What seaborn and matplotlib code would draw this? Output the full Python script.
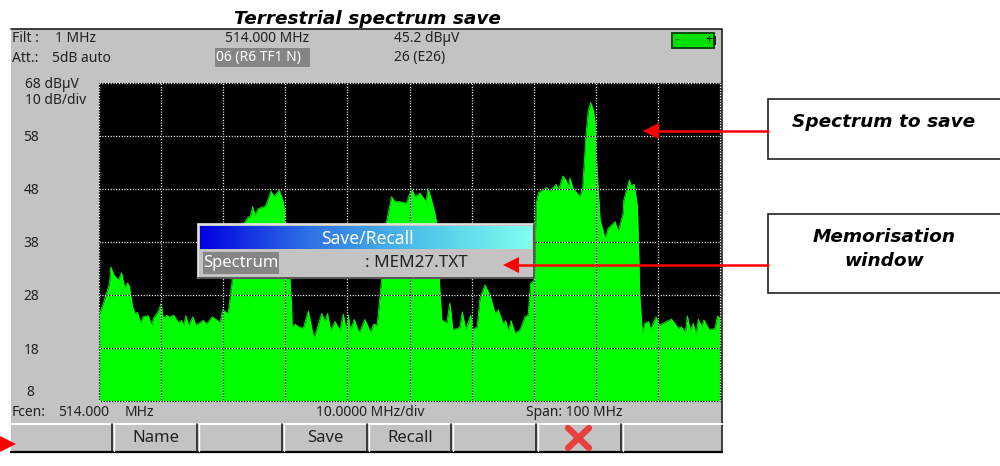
# Terrestrial spectrum save screen, spectrum trace with the instrument panel around it

import numpy as np
import seaborn as sns
import matplotlib.pyplot as plt
from matplotlib.patches import Rectangle, Polygon

# Trace
freq_mhz = [464.0, 464.7, 465.1, 465.7, 465.9, 466.4, 467.1, 467.65, 468.1, 468.6, 468.9, 469.4, 469.8, 470.2, 470.7,
            471.1, 471.9, 472.5, 472.75, 473.55, 474.0, 474.35, 474.9, 475.3, 476.0, 476.8, 477.3, 477.6, 478.0, 478.4,
            479.1, 479.6, 480.8, 481.3, 482.25, 483.5, 483.9, 484.8, 485.4, 485.6, 486.7, 487.5, 488.05, 488.3, 488.75,
            489.1, 489.65, 490.7, 491.0, 491.7, 492.2, 493.0, 493.6, 494.0, 494.05, 494.75, 495.0, 495.1, 495.6, 496.1,
            496.9, 497.7, 498.6, 499.05, 499.85, 500.4, 500.8, 501.3, 502.0, 502.8, 503.35, 503.8, 504.15, 504.5, 505.1,
            505.9, 506.8, 507.75, 508.2, 508.8, 509.5, 510.3, 511.1, 511.65, 512.5, 513.5, 514.35, 514.9, 515.7, 516.65,
            517.0, 517.55, 518.1, 518.4, 518.8, 519.2, 520.0, 520.5, 521.0, 522.1, 522.5, 523.05, 523.85, 524.2, 524.9,
            525.35, 526.15, 526.95, 527.8, 528.3, 529.1, 529.5, 529.9, 530.35, 531.0, 531.8, 532.6, 533.1, 533.5, 534.1,
            534.4, 534.75, 536.1, 536.6, 537.6, 538.0, 538.7, 539.2, 539.6, 539.85, 540.3, 541.45, 541.9, 542.1, 542.4,
            542.8, 543.2, 543.6, 543.9, 544.15, 544.4, 544.7, 545.5, 546.0, 547.1, 547.6, 548.4, 548.5, 549.4, 549.7,
            550.2, 550.7, 550.85, 551.1, 551.5, 551.9, 552.5, 552.8, 553.7, 554.25, 555.4, 556.2, 557.3, 557.8, 558.4,
            558.75, 559.2, 559.7, 560.15, 560.5, 561.05, 561.4, 562.3, 563.2, 563.6, 564.0]
level_dbuv = [24.2, 26.4, 27.9, 30.2, 33.3, 31.8, 30.8, 32.2, 29.4, 30.3, 29.6, 25.8, 24.5, 24.7, 22.7,
              23.9, 24.1, 22.2, 23.6, 24.9, 26.4, 23.6, 24.2, 23.8, 24.2, 22.8, 23.2, 22.2, 24.1, 22.2,
              23.9, 22.3, 23.2, 22.5, 23.9, 22.8, 25.2, 24.5, 30.2, 32.7, 39.0, 41.8, 42.8, 42.5, 44.7,
              43.1, 44.3, 44.7, 45.3, 47.6, 46.55, 47.8, 45.9, 43.4, 41.5, 30.8, 26.4, 22.0, 22.5, 22.0,
              21.7, 25.0, 19.8, 21.4, 24.5, 23.0, 24.5, 21.3, 23.0, 21.4, 24.4, 21.4, 24.2, 21.3, 23.4,
              20.8, 23.4, 20.9, 22.5, 22.3, 30.8, 41.8, 46.55, 45.6, 45.6, 45.3, 48.1, 46.55, 47.2, 45.6,
              48.1, 45.9, 43.4, 41.5, 30.8, 23.3, 22.65, 26.5, 21.4, 21.9, 24.85, 21.5, 24.2, 21.5, 22.0,
              27.4, 29.9, 28.0, 24.5, 25.2, 22.5, 23.15, 21.1, 23.15, 20.8, 21.4, 23.9, 24.2, 30.2, 30.8,
              45.3, 47.3, 48.3, 47.5, 48.9, 47.8, 50.45, 49.7, 48.4, 50.1, 48.2, 46.55, 48.4, 52.2, 57.9,
              62.9, 64.3, 62.9, 60.45, 52.9, 47.8, 42.15, 38.7, 40.6, 41.85, 39.95, 43.4, 45.9, 49.7, 48.6,
              48.9, 44.7, 39.0, 27.7, 20.8, 22.65, 23.0, 21.5, 23.9, 22.3, 23.0, 23.45, 21.7, 22.0, 20.8,
              24.05, 21.4, 22.65, 20.45, 23.45, 22.0, 23.3, 21.4, 21.7, 24.05, 23.6]

grid_freq = [464, 474, 484, 494, 504, 514, 524, 534, 544, 554, 564]
grid_level = [8, 18, 28, 38, 48, 58, 68]
level_labels = ['58', '48', '38', '28', '18']
label_levels = [58, 48, 38, 28, 18]
softkeys = ['', 'Name', '', 'Save', 'Recall', '', '', '']

GREY = '#c3c3c3'
GREEN = '#00ff00'
RED = '#ff0000'
W, H = 1000, 466

sns.set_theme(style='white')
plt.rcParams['font.family'] = ['Noto Sans', 'DejaVu Sans']

fig = plt.figure(figsize=(W / 100, H / 100), dpi=100)


def px_axes(x0, y0, x1, y1, zorder):
    return fig.add_axes([x0 / W, 1 - y1 / H, (x1 - x0) / W, (y1 - y0) / H], zorder=zorder)


# Background layer in pixel coordinates
back = px_axes(0, 0, W, H, 0)
back.set_xlim(0, W)
back.set_ylim(H, 0)
back.axis('off')
back.add_patch(Rectangle((11, 29), 711, 423, fc=GREY, ec='none'))
back.plot([11, 722, 722], [29, 29, 452], color='#202020', lw=1.2)
back.plot([11, 722], [452, 452], color='black', lw=1.6)
back.plot([11, 722], [423.5, 423.5], color='white', lw=1.4)

# Spectrum
ax = px_axes(99, 83, 720, 401, 1)
ax.set_facecolor('black')
sns.lineplot(x=freq_mhz, y=level_dbuv, ax=ax, color=GREEN, lw=0.6, sort=False, errorbar=None)
ax.fill_between(freq_mhz, level_dbuv, 8, color=GREEN, lw=0)
ax.set_xlim(464, 564)
ax.set_ylim(8, 68)
ax.set_xticks(grid_freq)
ax.set_yticks(label_levels)
ax.set_yticklabels(level_labels, fontsize=10, color='#222222')
ax.set_xticklabels([])
ax.tick_params(axis='y', length=0, pad=43)
ax.tick_params(axis='x', length=0)
# grid dots alternate black and white, the black ones only show over the trace
for f in grid_freq:
    ax.axvline(f, color='white', lw=0.9, ls=(0, (1.1, 1.1)), zorder=5, clip_on=False)
    ax.axvline(f, color='#101010', lw=0.9, ls=(1.1, (1.1, 1.1)), zorder=6, clip_on=False)
for l in grid_level:
    ax.axhline(l, color='white', lw=0.9, ls=(0, (1.1, 1.1)), zorder=5, clip_on=False)
    ax.axhline(l, color='#101010', lw=0.9, ls=(1.1, (1.1, 1.1)), zorder=6, clip_on=False)
sns.despine(ax=ax, left=True, bottom=True)

# Front layer: panel text, popup, callouts
fg = px_axes(0, 0, W, H, 2)
fg.set_xlim(0, W)
fg.set_ylim(H, 0)
fg.axis('off')
fg.patch.set_alpha(0)

tc = '#222222'
fg.text(367, 19, 'Terrestrial spectrum save', fontsize=13.3, family='DejaVu Sans', weight='bold', style='italic',
        ha='center', va='center', color='black')
for x, y, s in [(12, 39, 'Filt :'), (55, 39, '1 MHz'), (12, 58, 'Att.:'), (52, 58, '5dB auto'),
                (225, 39, '514.000 MHz'), (394, 39, '45.2 dBµV'), (394, 58, '26 (E26)'),
                (25, 84, '68 dBµV'), (25, 101, '10 dB/div'), (26, 393, '8')]:
    fg.text(x, y, s, fontsize=10, color=tc, ha='left', va='center')
fg.add_patch(Rectangle((215, 48), 95, 19, fc='#858585', ec='none'))
fg.text(216, 58, '06 (R6 TF1 N)', fontsize=10, color='white', ha='left', va='center')

for x, y, s in [(12, 412, 'Fcen:'), (58, 412, '514.000'), (125, 412, 'MHz'), (316, 412, '10.0000 MHz/div'),
                (526, 412, 'Span: 100 MHz')]:
    fg.text(x, y, s, fontsize=10, color=tc, ha='left', va='center')

# Softkeys
key_edges = [28, 113, 198, 283, 368, 452, 537, 622, 722]
for i, name in enumerate(softkeys):
    if i > 0:
        fg.plot([key_edges[i] - 1, key_edges[i] - 1], [424, 451], color='#202020', lw=1.2)
        fg.plot([key_edges[i] + 1, key_edges[i] + 1], [424, 451], color='white', lw=1)
    if name:
        fg.text((key_edges[i] + key_edges[i + 1]) / 2, 438, name, fontsize=12, color=tc, ha='center', va='center')
fg.plot([568, 589], [428, 448], color='#e8403c', lw=4.6, solid_capstyle='round')
fg.plot([589, 568], [428, 448], color='#e8403c', lw=4.6, solid_capstyle='round')

# Battery
fg.add_patch(Rectangle((672, 33), 42, 15, fc='#00e000', ec='#0a4a0a', lw=1.4))
fg.add_patch(Rectangle((714, 36), 2, 9, fc='#202020', ec='none'))
fg.text(677, 40, '-', fontsize=8, color='#0a4a0a', ha='center', va='center')
fg.text(709, 40, '+', fontsize=9, color='black', ha='center', va='center', weight='bold')

# Popup
fg.add_patch(Rectangle((198, 224), 336, 54, fc=GREY, ec='#e8e8e8', lw=1.2))
fg.plot([198, 534, 534], [278, 278, 224], color='#404040', lw=1.2)
gradient = np.linspace(0, 1, 256).reshape(1, -1)
cmap = sns.blend_palette(['#0000e0', '#2f74e6', '#4fc4e8', '#80fff0'], as_cmap=True)
fg.imshow(gradient, extent=(200, 532, 249, 226), aspect='auto', cmap=cmap, zorder=3)
fg.set_xlim(0, W)
fg.set_ylim(H, 0)
fg.text(367, 239, 'Save/Recall', fontsize=12.6, color='white', ha='center', va='center', zorder=4)
fg.add_patch(Rectangle((203, 252), 76, 22, fc='#858585', ec='none', zorder=3))
fg.text(203, 263, 'Spectrum', fontsize=12, color='white', ha='left', va='center', zorder=4)
fg.text(365, 263, ': MEM27.TXT', fontsize=12.3, color=tc, ha='left', va='center', zorder=4)

# Callouts
for y0, y1 in [(99, 159), (214, 293)]:
    fg.add_patch(Rectangle((768, y0), 240, y1 - y0, fc='white', ec='#222222', lw=1.2))
for s, y in [('Spectrum to save', 122), ('Memorisation', 237), ('window', 261)]:
    fg.text(884, y, s, fontsize=13.3, family='DejaVu Sans', weight='bold', style='italic', color='black',
            ha='center', va='center')
for x_tip, y in [(643, 131), (503, 265)]:
    fg.plot([x_tip + 12, 768], [y, y], color=RED, lw=1.8, zorder=6)
    fg.add_patch(Polygon([(x_tip, y), (x_tip + 16, y - 8), (x_tip + 16, y + 8)], fc=RED, ec='none', zorder=6))
fg.add_patch(Polygon([(0, 436), (16, 444), (0, 452)], fc=RED, ec='none', zorder=6))

fig.savefig('out.png', dpi=100)
